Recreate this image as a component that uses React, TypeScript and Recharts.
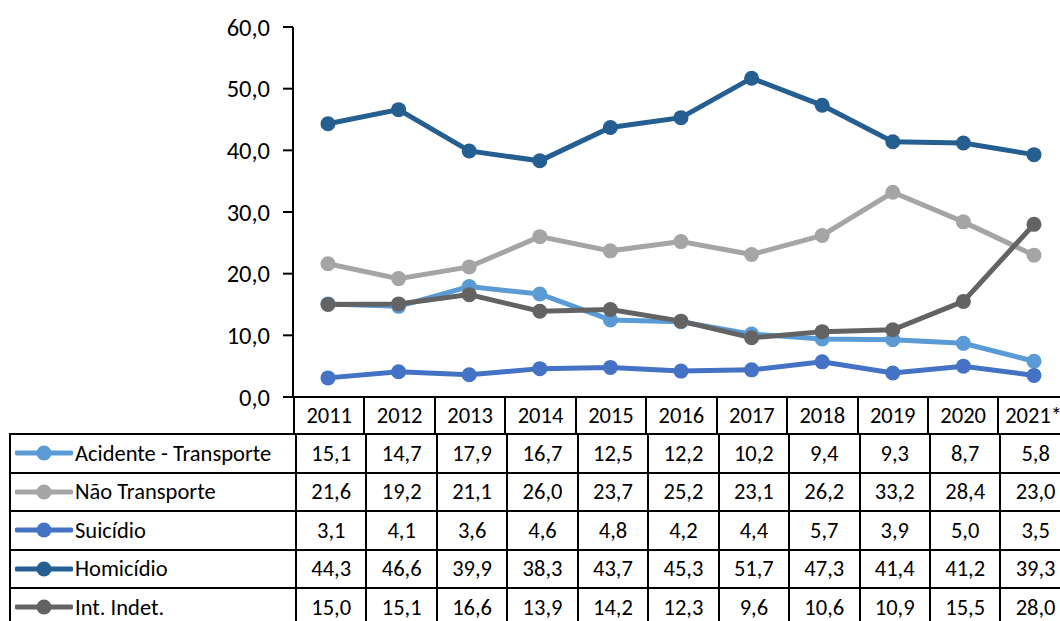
import { LineChart, Line, XAxis, YAxis, ReferenceLine } from "recharts"

const years = ["2011", "2012", "2013", "2014", "2015", "2016", "2017", "2018", "2019", "2020", "2021*"]

const acidente = [15.1, 14.7, 17.9, 16.7, 12.5, 12.2, 10.2, 9.4, 9.3, 8.7, 5.8]
const naoTransporte = [21.6, 19.2, 21.1, 26.0, 23.7, 25.2, 23.1, 26.2, 33.2, 28.4, 23.0]
const suicidio = [3.1, 4.1, 3.6, 4.6, 4.8, 4.2, 4.4, 5.7, 3.9, 5.0, 3.5]
const homicidio = [44.3, 46.6, 39.9, 38.3, 43.7, 45.3, 51.7, 47.3, 41.4, 41.2, 39.3]
const intIndet = [15.0, 15.1, 16.6, 13.9, 14.2, 12.3, 9.6, 10.6, 10.9, 15.5, 28.0]

const yTicks = [0, 10, 20, 30, 40, 50, 60]

const series = [
  { key: "acidente", name: "Acidente - Transporte", color: "#5B9BD5", values: acidente },
  { key: "naoTransporte", name: "Não Transporte", color: "#A5A5A5", values: naoTransporte },
  { key: "suicidio", name: "Suicídio", color: "#4472C4", values: suicidio },
  { key: "homicidio", name: "Homicídio", color: "#255E91", values: homicidio },
  { key: "intIndet", name: "Int. Indet.", color: "#636363", values: intIndet },
]

const data = years.map((year, i) => {
  const row: any = { year }
  series.forEach((s) => (row[s.key] = s.values[i]))
  return row
})

const fmt = (v: number) => v.toFixed(1).replace(".", ",")

const FONT = "Carlito, Calibri, Lato, sans-serif"
const PLOT_LEFT = 293
const COL_W = 70.45
const BORDER = "2px solid #000"
const TABLE_FS = 22.5

function LegendKey({ color }: { color: string }) {
  return (
    <svg width={58} height={16} style={{ display: "block", flexShrink: 0 }}>
      <line x1={2} y1={8} x2={56} y2={8} stroke={color} strokeWidth={5} strokeLinecap="round" />
      <circle cx={29} cy={8} r={7.5} fill={color} />
    </svg>
  )
}

export default function App() {
  return (
    <div
      style={{
        position: "absolute",
        left: 0,
        top: 0,
        width: 1060,
        height: 621,
        overflow: "hidden",
        background: "#fff",
        fontFamily: FONT,
        color: "#000",
      }}
    >
      <LineChart width={1069} height={621} data={data} margin={{ top: 27, right: 0, bottom: 224, left: 0 }}>
        <XAxis dataKey="year" hide padding={{ left: 35, right: 35 }} />
        <YAxis
          width={PLOT_LEFT}
          domain={[0, 60]}
          ticks={yTicks}
          tickFormatter={fmt}
          axisLine={{ stroke: "#000", strokeWidth: 2 }}
          tickLine={{ stroke: "#000", strokeWidth: 2 }}
          tickSize={10}
          tickMargin={13}
          tick={{ fill: "#000", fontSize: 24.5, fontFamily: FONT }}
        />
        <ReferenceLine y={0} stroke="#000" strokeWidth={2} />
        {series.map((s) => (
          <Line
            key={s.key}
            dataKey={s.key}
            name={s.name}
            stroke={s.color}
            strokeWidth={5}
            dot={{ r: 7.5, fill: s.color, stroke: s.color, strokeWidth: 0 }}
            activeDot={false}
            isAnimationActive={false}
          />
        ))}
      </LineChart>

      {/* header row with years */}
      <div style={{ position: "absolute", left: PLOT_LEFT, top: 397, height: 37, display: "flex" }}>
        {years.map((y) => (
          <div
            key={y}
            style={{
              boxSizing: "border-box",
              width: COL_W,
              height: 37,
              borderLeft: BORDER,
              display: "flex",
              alignItems: "center",
              justifyContent: "center",
              fontSize: TABLE_FS,
              whiteSpace: "nowrap",
            }}
          >
            {y}
          </div>
        ))}
      </div>

      {/* data table */}
      <div style={{ position: "absolute", left: 9, top: 433 }}>
        {series.map((s) => (
          <div
            key={s.key}
            style={{
              display: "flex",
              height: 38.5,
              boxSizing: "border-box",
              borderTop: BORDER,
              borderLeft: BORDER,
            }}
          >
            <div
              style={{
                boxSizing: "border-box",
                width: PLOT_LEFT - 9,
                display: "flex",
                alignItems: "center",
                paddingLeft: 4,
                fontSize: TABLE_FS,
                whiteSpace: "nowrap",
              }}
            >
              <LegendKey color={s.color} />
              <span style={{ marginLeft: 2 }}>{s.name}</span>
            </div>
            {s.values.map((v, i) => (
              <div
                key={i}
                style={{
                  boxSizing: "border-box",
                  width: COL_W,
                  borderLeft: BORDER,
                  display: "flex",
                  alignItems: "center",
                  justifyContent: "center",
                  fontSize: TABLE_FS,
                }}
              >
                {fmt(v)}
              </div>
            ))}
          </div>
        ))}
      </div>
    </div>
  )
}
